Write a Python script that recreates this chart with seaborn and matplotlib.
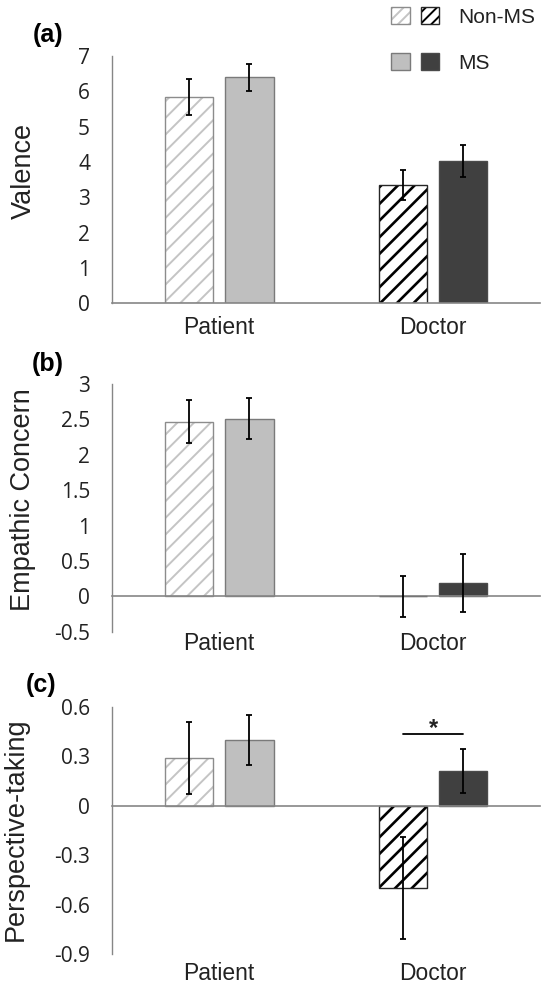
import matplotlib
matplotlib.use("Agg")
import matplotlib.pyplot as plt
import numpy as np
import pandas as pd
import seaborn as sns
from matplotlib.patches import Patch
from matplotlib.legend_handler import HandlerTuple
from matplotlib.colors import to_rgba

# ---------------- data ----------------
categories = ["Patient", "Doctor"]
conditions = ["Non-MS", "MS"]
panel_labels = ["(a)", "(b)", "(c)"]
ylabels = ["Valence", "Empathic Concern", "Perspective-taking"]

valence_nonms = [5.84, 3.35]
valence_ms = [6.40, 4.03]
valence_err_nonms = [0.50, 0.42]
valence_err_ms = [0.38, 0.46]

empathic_nonms = [2.47, 0.0]
empathic_ms = [2.51, 0.19]
empathic_err_nonms = [0.31, 0.29]
empathic_err_ms = [0.29, 0.405]

perspective_nonms = [0.29, -0.50]
perspective_ms = [0.40, 0.21]
perspective_err_nonms = [0.22, 0.31]
perspective_err_ms = [0.15, 0.135]

yticks_a = [0, 1, 2, 3, 4, 5, 6, 7]
ytick_labels_a = ["0", "1", "2", "3", "4", "5", "6", "7"]
yticks_b = [-0.5, 0, 0.5, 1, 1.5, 2, 2.5, 3]
ytick_labels_b = ["-0.5", "0", "0.5", "1", "1.5", "2", "2.5", "3"]
yticks_c = [-0.9, -0.6, -0.3, 0, 0.3, 0.6]
ytick_labels_c = ["-0.9", "-0.6", "-0.3", "0", "0.3", "0.6"]

sig_y = 0.435      # significance bracket height (panel c, Doctor)
sig_text = "*"

# ---------------- style ----------------
sns.set_style("white")
plt.rcParams["font.family"] = ["Liberation Sans", "DejaVu Sans"]
plt.rcParams["hatch.linewidth"] = 1.4

GRAY = "#868686"
TXT = "#222222"
fills = {("Non-MS", "Patient"): "white", ("MS", "Patient"): "#bfbfbf",
         ("Non-MS", "Doctor"): "white", ("MS", "Doctor"): "#404040"}
edges = {("Non-MS", "Patient"): "#8c8c8c", ("MS", "Patient"): "#7a7a7a",
         ("Non-MS", "Doctor"): "#262626", ("MS", "Doctor"): "#4a4a4a"}
hatchcol = {("Non-MS", "Patient"): "#c4c4c4", ("Non-MS", "Doctor"): "#000000"}


def set_hatch_color(p, c):
    if hasattr(p, "set_hatchcolor"):
        p.set_hatchcolor(c)
    else:
        p._hatch_color = to_rgba(c)


fig = plt.figure(figsize=(5.44, 9.85), dpi=100)
W, H = 544, 985
left_px, right_px = 112.3, 540
axes_px = [(56, 303.3), (384, 631.7), (707, 954)]  # top, bottom in px

panels = [
    (valence_nonms, valence_ms, valence_err_nonms, valence_err_ms, yticks_a, ytick_labels_a),
    (empathic_nonms, empathic_ms, empathic_err_nonms, empathic_err_ms, yticks_b, ytick_labels_b),
    (perspective_nonms, perspective_ms, perspective_err_nonms, perspective_err_ms, yticks_c, ytick_labels_c),
]
cat_baseline_pt = [22, 13.2, 18.7]
ylabel_pos = [(23.5, 171), (23.5, 500), (15.5, 829)]
panel_pos = [(48, 35), (48, 364), (41, 685)]

for k, (nonms, ms, enonms, ems, yt, ytl) in enumerate(panels):
    top, bot = axes_px[k]
    ax = fig.add_axes([left_px / W, 1 - bot / H, (right_px - left_px) / W, (bot - top) / H])
    df = pd.DataFrame({
        "category": categories * 2,
        "condition": [c for c in conditions for _ in categories],
        "value": list(nonms) + list(ms),
    })
    sns.barplot(data=df, x="category", y="value", hue="condition", order=categories,
                hue_order=conditions, width=0.564, gap=0.2, errorbar=None,
                palette=["white", "#bfbfbf"], legend=False, ax=ax, linewidth=1.0)
    errs = [enonms, ems]
    centers = {}
    bar_containers = list(ax.containers)
    for h, cont in enumerate(bar_containers):
        cond = conditions[h]
        for i, p in enumerate(cont.patches):
            key = (cond, categories[i])
            p.set_facecolor(fills[key])
            p.set_edgecolor(edges[key])
            p.set_linewidth(1.0)
            if cond == "Non-MS":
                p.set_hatch("//")
                set_hatch_color(p, hatchcol[key])
                if hasattr(p, "set_hatch_linewidth"):
                    p.set_hatch_linewidth(1.4 if categories[i] == "Patient" else 1.9)
            xc = p.get_x() + p.get_width() / 2
            yv = p.get_y() + p.get_height()
            centers[key] = xc
            ax.errorbar(xc, yv, yerr=errs[h][i], fmt="none", ecolor="black",
                        elinewidth=1.3, capsize=2.0, capthick=1.3, zorder=5)

    ax.set_xlim(-0.5, 1.5)
    ax.set_ylim(yt[0], yt[-1])
    ax.set_yticks(yt)
    ax.set_yticklabels(ytl, fontfamily=["Open Sans", "DejaVu Sans"], fontsize=15, color=TXT)
    ax.tick_params(axis="y", direction="out", length=7, width=1.0, color=GRAY, pad=9)
    ax.set_xticks([0, 1])
    ax.set_xticklabels([])
    ax.tick_params(axis="x", which="major", length=0)
    ax.set_xticks([0.5, 1.5], minor=True)
    ax.tick_params(axis="x", which="minor", direction="out", length=5, width=1.0, color=GRAY)
    for s in ["top", "right"]:
        ax.spines[s].set_visible(False)
    ax.spines["left"].set_color(GRAY)
    ax.spines["left"].set_linewidth(1.0)
    ax.spines["bottom"].set_position(("data", 0))
    ax.spines["bottom"].set_color(GRAY)
    ax.spines["bottom"].set_linewidth(1.2)
    ax.set_xlabel("")
    ax.set_ylabel("")
    ax.grid(False)

    for i, cat in enumerate(categories):
        ax.annotate(cat, xy=(i, 0), xycoords=("data", "axes fraction"),
                    xytext=(0, -cat_baseline_pt[k]), textcoords="offset points",
                    ha="center", va="baseline", fontsize=16.5, color=TXT)

    fig.text(ylabel_pos[k][0] / W, 1 - ylabel_pos[k][1] / H, ylabels[k], rotation=90,
             ha="center", va="center", fontsize=19.5, color=TXT)
    fig.text(panel_pos[k][0] / W, 1 - panel_pos[k][1] / H, panel_labels[k],
             ha="center", va="center", fontsize=18, fontweight="bold", color="black")

    if k == 2:
        x1 = centers[("Non-MS", "Doctor")]
        x2 = centers[("MS", "Doctor")]
        ax.plot([x1, x2], [sig_y, sig_y], color="black", lw=1.3)
        ax.annotate(sig_text, xy=((x1 + x2) / 2, sig_y), xytext=(0, -4),
                    textcoords="offset points", ha="center", va="bottom",
                    fontsize=17, fontweight="bold", color=TXT)

# ---------------- legend ----------------
def mk(face, edge, hatch=None, hc=None):
    p = Patch(facecolor=face, edgecolor=edge, hatch=hatch, linewidth=1.0)
    if hc is not None:
        set_hatch_color(p, hc)
    return p

h_nonms = (mk("white", "#8c8c8c", "///", "#c4c4c4"), mk("white", "#262626", "///", "#000000"))
h_ms = (mk("#bfbfbf", "#7a7a7a"), mk("#404040", "#4a4a4a"))
fig.legend([h_nonms, h_ms], conditions, loc="upper left",
           bbox_to_anchor=(381 / W, 1 + 3 / H), frameon=False, borderpad=0,
           handlelength=2.3, handleheight=0.87, handletextpad=0.9,
           labelspacing=1.25, fontsize=15, labelcolor=TXT,
           handler_map={tuple: HandlerTuple(ndivide=None, pad=0.55)})

fig.savefig("out.png", dpi=100)
